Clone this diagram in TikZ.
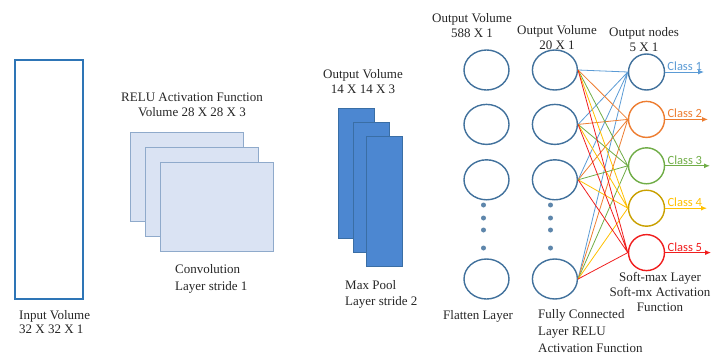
\documentclass[tikz,border=0pt]{standalone}
\usepackage{fontspec}
\setmainfont{Liberation Serif}
\newfontfamily\clsfont{Carlito}
\usetikzlibrary{shapes,arrows.meta,positioning}
\definecolor{nnline}{HTML}{41719C}
\definecolor{inblue}{HTML}{2E75B6}
\definecolor{convfill}{HTML}{DAE3F3}
\definecolor{convline}{HTML}{8FAACB}
\definecolor{poolfill}{HTML}{4C87D1}
\definecolor{poolline}{HTML}{3A6EA5}
\definecolor{cls1}{HTML}{5B9BD5}
\definecolor{cls2}{HTML}{ED7D31}
\definecolor{cls3}{HTML}{70AD47}
\definecolor{cls4}{HTML}{FFC000}
\definecolor{cls4d}{HTML}{C9A000}
\definecolor{cls5}{HTML}{F01E1E}
\tikzset{
  lbl/.style = {align=center, inner sep=0pt, text=black!85,
    font=\fontsize{13}{15}\selectfont},
  cnn_in/.style = {rectangle, draw=inblue, line width=2.2pt, fill=white,
    minimum width=68pt, minimum height=239pt},% input volume
  cnn_conv/.style = {rectangle, draw=convline, line width=0.9pt, fill=convfill,
    minimum width=113pt, minimum height=89pt},% convolution maps
  cnn_pool/.style = {rectangle, draw=poolline, line width=0.8pt, fill=poolfill,
    minimum width=36pt, minimum height=130pt},% max pool maps
  cnn_neu/.style = {ellipse, draw=nnline, line width=1.4pt, fill=white,
    minimum width=45pt, minimum height=40pt, inner sep=0pt},% hidden neuron
  cnn_out/.style = {circle, draw=#1, line width=1.4pt, fill=white,
    minimum size=36pt, inner sep=0pt},% output neuron
  cnn_dot/.style = {circle, fill=nnline!85, inner sep=0pt, minimum size=5pt},
  cls_lbl/.style = {anchor=south west, inner sep=1pt, text=#1,
    font=\clsfont\fontsize{12.5}{13}\selectfont},
  w/.style = {line width=0.8pt, draw=#1}
}
\begin{document}
\begin{tikzpicture}[x=1pt,y=-1pt,-,>={Latex[length=6pt,width=5pt]}]
        \useasboundingbox (0,0) rectangle (712,356);
        % input and convolution
        \node [cnn_in] (I) at (49,179.5) {};
        \node [lbl, anchor=west, align=left, font=\fontsize{13}{13.5}\selectfont] (Il) at (19,322) {Input Volume\\32 X 32 X 1};
        \node [cnn_conv] (C1) at (186.5,177) {};
        \node [cnn_conv] (C2) at (201.5,191.5) {};
        \node [cnn_conv] (C3) at (217,206.5) {};
        \node [lbl] (Ct) at (192,104.5) {RELU Activation Function\\Volume 28 X 28 X 3};
        \node [lbl, anchor=west, align=left, font=\fontsize{13}{17}\selectfont] (Cb) at (175,278.5) {Convolution\\Layer stride 1};
        % max pool
        \node [cnn_pool] (P1) at (356,173) {};
        \node [cnn_pool] (P2) at (371,187.5) {};
        \node [cnn_pool] (P3) at (384,201) {};
        \node [lbl] (Pt) at (363,82) {Output Volume\\14 X 14 X 3};
        \node [lbl, anchor=west, align=left, font=\fontsize{13}{16}\selectfont] (Pb) at (345,294) {Max Pool\\Layer stride 2};
        % flatten layer
        \node [cnn_neu] (F1) at (486.5,70) {};
        \node [cnn_neu, below= 13pt of F1] (F2) {};
        \node [cnn_neu, below= 14pt of F2] (F3) {};
        \node [cnn_neu] (F4) at (486.5,279) {};
        \node [cnn_dot] (Fd1) at (483.5,205) {};
        \node [cnn_dot] (Fd2) at (483.5,218) {};
        \node [cnn_dot] (Fd3) at (483.5,230) {};
        \node [cnn_dot] (Fd4) at (483.5,248) {};
        \node [lbl] (Ft) at (472,26) {Output Volume\\588 X 1};
        \node [lbl] (Fb) at (478,316) {Flatten Layer};
        % fully connected layer
        \node [cnn_neu, right= 22pt of F1] (H1) {};
        \node [cnn_neu, right= 22pt of F2] (H2) {};
        \node [cnn_neu, right= 22pt of F3] (H3) {};
        \node [cnn_neu, right= 22pt of F4] (H4) {};
        \node [cnn_dot] (Hd1) at (550.5,205) {};
        \node [cnn_dot] (Hd2) at (550.5,218) {};
        \node [cnn_dot] (Hd3) at (550.5,230) {};
        \node [cnn_dot] (Hd4) at (550.5,248) {};
        \node [lbl] (Ht) at (557,37.5) {Output Volume\\20 X 1};
        \node [lbl, anchor=west, align=left, font=\fontsize{13}{17}\selectfont] (Hb) at (538,331) {Fully Connected\\Layer RELU\\Activation Function};
        % output layer
        \node [cnn_out=nnline] (O1) at (646.5,72) {};
        \node [cnn_out=cls2, below= 10pt of O1] (O2) {};
        \node [cnn_out=cls3, below= 9pt of O2] (O3) {};
        \node [cnn_out=cls4d, below= 5pt of O3] (O4) {};
        \node [cnn_out=cls5, below= 7pt of O4] (O5) {};
        \node [lbl] (Ot) at (644,39.5) {Output nodes\\5 X 1};
        \node [lbl] (Ob) at (660,292) {Soft-max Layer\\Soft-mx Activation\\Function};
        % weights
        \draw [w=cls1] (H1.east) -- (O1.west) (H2.east) -- (O1.west) (H3.east) -- (O1.west) (H4.east) -- (O1.west);
        \draw [w=cls2] (H1.east) -- (O2.west) (H2.east) -- (O2.west) (H3.east) -- (O2.west) (H4.east) -- (O2.west);
        \draw [w=cls3] (H1.east) -- (O3.west) (H2.east) -- (O3.west) (H3.east) -- (O3.west) (H4.east) -- (O3.west);
        \draw [w=cls4] (H1.east) -- (O4.west) (H2.east) -- (O4.west) (H3.east) -- (O4.west) (H4.east) -- (O4.west);
        \draw [w=cls5] (H1.east) -- (O5.west) (H2.east) -- (O5.west) (H3.east) -- (O5.west) (H4.east) -- (O5.west);
        % class outputs
        \coordinate (E1) at (704,0);
        \coordinate (E2) at (708,0);
        \coordinate (E3) at (710,0);
        \coordinate (E4) at (707,0);
        \coordinate (E5) at (711,0);
        \draw [->, w=cls1, line width=1pt] (O1.east) -- (E1 |- O1) node [cls_lbl=cls1, pos=0.02] (L1) {Class 1};
        \draw [->, w=cls2, line width=1pt] (O2.east) -- (E2 |- O2) node [cls_lbl=cls2, pos=0.02] (L2) {Class 2};
        \draw [->, w=cls3, line width=1pt] (O3.east) -- (E3 |- O3) node [cls_lbl=cls3, pos=0.02] (L3) {Class 3};
        \draw [->, w=cls4, line width=1pt] (O4.east) -- (E4 |- O4) node [cls_lbl=cls4, pos=0.02] (L4) {Class 4};
        \draw [->, w=cls5, line width=1pt] (O5.east) -- (E5 |- O5) node [cls_lbl=cls5, pos=0.02] (L5) {Class 5};
\end{tikzpicture}
\end{document}
